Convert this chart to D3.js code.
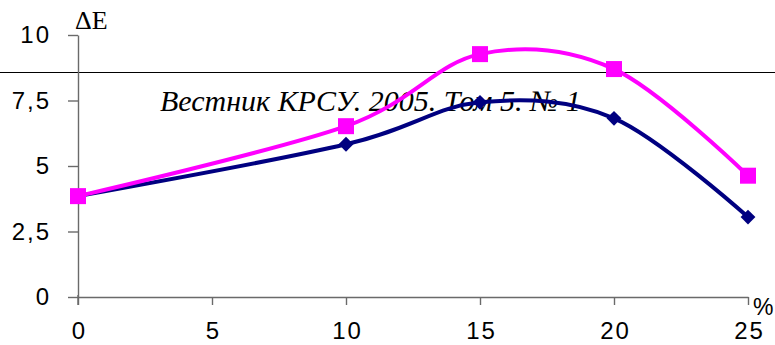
<!DOCTYPE html>
<html>
<head>
<meta charset="utf-8">
<script src="https://cdn.jsdelivr.net/npm/d3@7"></script>
<style>
  html, body { margin: 0; padding: 0; background: #fff; }
  svg { display: block; }
</style>
</head>
<body>
<svg id="chart" width="775" height="345"></svg>
<script>
// Concentration, % (x) and colour difference ΔE for two sample series
const concentration = [0, 10, 15, 20, 25];
const seriesPink = [3.85, 6.52, 9.27, 8.7, 4.63];
const seriesNavy = [3.85, 5.83, 7.43, 6.82, 3.05];
const xTicks = [0, 5, 10, 15, 20, 25];
const yTicks = [0, 2.5, 5, 7.5, 10];
const yTickLabels = ["0", "2,5", "5", "7,5", "10"];
const headerText = "Вестник КРСУ. 2005. Том 5. № 1";

const svg = d3.select("#chart");
const x = d3.scaleLinear().domain([0, 25]).range([78, 748]);
const y = d3.scaleLinear().domain([0, 10]).range([297, 35]);

// Journal running header (sits behind the plotted curves)
svg.append("line")
  .attr("x1", 0).attr("x2", 775)
  .attr("y1", 72.5).attr("y2", 72.5)
  .attr("stroke", "#000").attr("stroke-width", 1);

svg.append("text")
  .attr("x", 160).attr("y", 111)
  .attr("font-family", "'Liberation Serif', 'Times New Roman', serif")
  .attr("font-style", "italic")
  .attr("font-size", 30)
  .attr("fill", "#000")
  .text(headerText);

// Axes
const axisFont = "'Liberation Sans', Arial, sans-serif";
const yAxis = svg.append("g")
  .attr("transform", `translate(${x(0)},0)`)
  .call(d3.axisLeft(y).tickValues(yTicks)
    .tickFormat((d, i) => yTickLabels[i])
    .tickSize(10).tickPadding(17).tickSizeOuter(0));
const xAxis = svg.append("g")
  .attr("transform", `translate(0,${y(0)})`)
  .call(d3.axisBottom(x).tickValues(xTicks)
    .tickSize(8).tickPadding(17).tickSizeOuter(0));

[yAxis, xAxis].forEach(g => {
  g.select(".domain").attr("stroke", "#6a6a6a").attr("stroke-width", 1.4);
  g.selectAll(".tick line").attr("stroke", "#6a6a6a").attr("stroke-width", 1.4);
  g.selectAll(".tick text")
    .attr("fill", "#000")
    .attr("font-family", axisFont)
    .attr("font-size", 24)
    .style("letter-spacing", "2px");
});
xAxis.selectAll(".tick text").attr("dx", 1);
// tick through the axis at the origin
svg.append("line")
  .attr("x1", x(0)).attr("x2", x(0))
  .attr("y1", y(0) - 2).attr("y2", y(0) + 8)
  .attr("stroke", "#6a6a6a").attr("stroke-width", 1.4);

// Axis titles
svg.append("text")
  .attr("x", 75).attr("y", 29)
  .attr("font-family", "'Liberation Serif', 'Times New Roman', serif")
  .attr("font-size", 26)
  .attr("fill", "#000")
  .text("ΔE");
svg.append("text")
  .attr("x", 753).attr("y", 315)
  .attr("font-family", axisFont)
  .attr("font-size", 23)
  .attr("fill", "#000")
  .text("%");

// Smoothed series lines
const line = d3.line()
  .x((d, i) => x(concentration[i]))
  .y(d => y(d))
  .curve(d3.curveCardinal.tension(0));

// navy series: line + diamonds
svg.append("path")
  .datum(seriesNavy)
  .attr("d", line)
  .attr("fill", "none")
  .attr("stroke", "#000080")
  .attr("stroke-width", 4)
  .attr("stroke-linejoin", "round");
svg.append("g").selectAll("path")
  .data(seriesNavy)
  .join("path")
  .attr("d", d3.symbol(d3.symbolSquare, 110)())
  .attr("transform", (d, i) => `translate(${x(concentration[i])},${y(d)}) rotate(45)`)
  .attr("fill", "#000080");

// pink series: line + squares
svg.append("path")
  .datum(seriesPink)
  .attr("d", line)
  .attr("fill", "none")
  .attr("stroke", "#FF00FF")
  .attr("stroke-width", 4)
  .attr("stroke-linejoin", "round");
svg.append("g").selectAll("rect")
  .data(seriesPink)
  .join("rect")
  .attr("x", (d, i) => x(concentration[i]) - 8)
  .attr("y", d => y(d) - 8)
  .attr("width", 16).attr("height", 16)
  .attr("fill", "#FF00FF");
</script>
</body>
</html>
